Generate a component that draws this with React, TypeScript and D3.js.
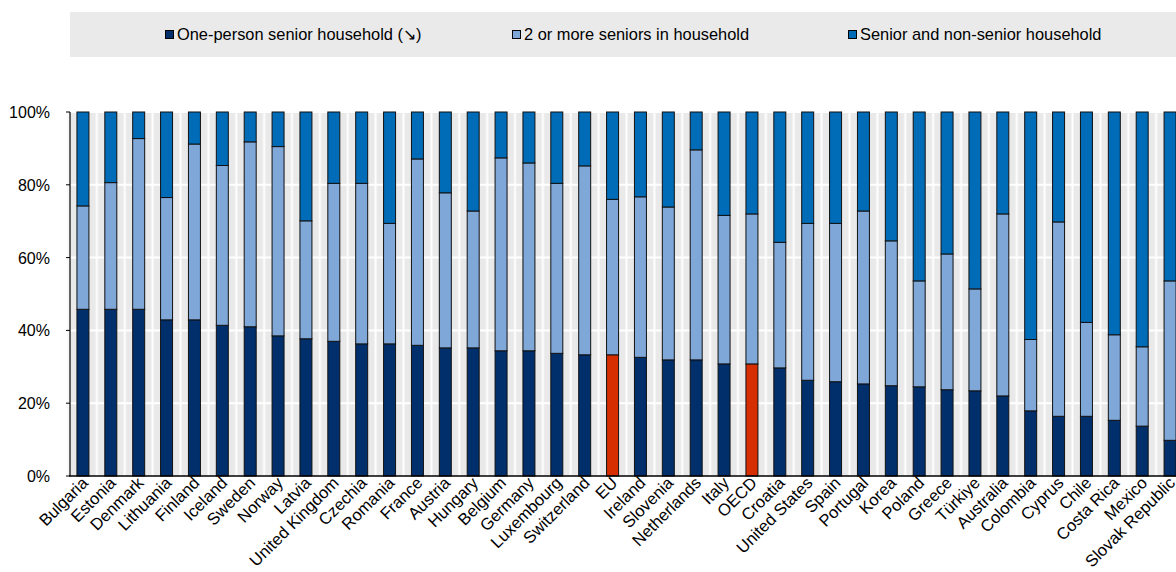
import React from "react";
import * as d3 from "d3";

const categories = ["Bulgaria","Estonia","Denmark","Lithuania","Finland","Iceland","Sweden","Norway","Latvia","United Kingdom","Czechia","Romania","France","Austria","Hungary","Belgium","Germany","Luxembourg","Switzerland","EU","Ireland","Slovenia","Netherlands","Italy","OECD","Croatia","United States","Spain","Portugal","Korea","Poland","Greece","Türkiye","Australia","Colombia","Cyprus","Chile","Costa Rica","Mexico","Slovak Republic"];

// One-person senior household (%)
const onePerson = [45.8,45.8,45.8,42.9,42.9,41.4,41.0,38.5,37.7,37.0,36.3,36.3,35.9,35.2,35.2,34.4,34.4,33.7,33.3,33.3,32.6,31.9,31.9,30.8,30.8,29.7,26.3,25.9,25.3,24.8,24.5,23.7,23.4,22.0,17.9,16.4,16.4,15.3,13.7,9.8];
// Cumulative top of "2 or more seniors" (%)
const cumTwoOrMore = [74.2,80.6,92.7,76.5,91.2,85.3,91.8,90.5,70.1,80.4,80.4,69.4,87.1,77.8,72.8,87.4,86.0,80.4,85.2,76.0,76.7,73.9,89.6,71.6,72.0,64.2,69.4,69.4,72.8,64.6,53.6,61.0,51.4,72.0,37.5,69.8,42.2,38.8,35.5,53.6];
const twoOrMore = cumTwoOrMore.map((c, i) => +(c - onePerson[i]).toFixed(1));
const seniorNonSenior = cumTwoOrMore.map((c) => +(100 - c).toFixed(1));

const yTicks = [0, 20, 40, 60, 80, 100];
const highlight = ["EU", "OECD"];

const seriesNames = ["One-person senior household (\u2198)", "2 or more seniors in household", "Senior and non-senior household"];
const seriesColors = ["#002F6C", "#7FA8D9", "#006BB6"];
const highlightColor = "#D62E00";

const W = 1176, H = 572;
const left = 69, right = 69 + 40 * 27.875, top = 112, bottom = 476;
const font = "'Liberation Sans', Arial, sans-serif";

export default function App() {
  const x = d3.scaleBand<string>().domain(categories).range([left, right]).paddingInner(0.57).paddingOuter(0.285);
  const y = d3.scaleLinear().domain([0, 100]).range([bottom, top]);
  const stackData = categories.map((c, i) => ({ c, a: onePerson[i], b: twoOrMore[i], s: seniorNonSenior[i] }));
  const stacked = d3.stack<any>().keys(["a", "b", "s"])(stackData);
  const step = x.step();
  const bw = x.bandwidth();

  const legendItems = [
    { x: 165, label: seriesNames[0], color: seriesColors[0] },
    { x: 512, label: seriesNames[1], color: seriesColors[1] },
    { x: 848, label: seriesNames[2], color: seriesColors[2] },
  ];

  return (
    <svg width={W} height={H} style={{ position: "absolute", left: 0, top: 0 }} fontFamily={font}>
      <rect x={0} y={0} width={W} height={H} fill="#fff" />
      {/* legend */}
      <rect x={70} y={12} width={W - 70} height={45} fill="#EAEAEA" />
      {legendItems.map((l, i) => (
        <g key={i}>
          <rect x={l.x + 0.5} y={30.5} width={8} height={8} fill={l.color} stroke="#000" strokeWidth={1} />
          <text x={l.x + 12} y={40} fontSize={16.4} fill="#000">{l.label}</text>
        </g>
      ))}
      {/* plot background */}
      <rect x={left} y={top} width={right - left} height={bottom - top} fill="#E9E9E9" />
      {categories.map((c, i) => (
        <rect key={"v" + i} x={(x(c) as number) - (step - bw) / 2 - 1.5} y={top} width={3} height={bottom - top} fill="#F4F4F4" />
      ))}
      {categories.map((c, i) => (
        <line key={"vl" + i} x1={(x(c) as number) - (step - bw) / 2} x2={(x(c) as number) - (step - bw) / 2} y1={top} y2={bottom} stroke="#fff" strokeWidth={1} />
      ))}
      {yTicks.filter((t) => t > 0).map((t) => (
        <line key={"g" + t} x1={left} x2={right} y1={y(t)} y2={y(t)} stroke="#fff" strokeWidth={2} />
      ))}
      {/* bars */}
      {stacked.map((layer, li) => (
        <g key={li}>
          {layer.map((d: any, i: number) => {
            const cat = categories[i];
            const fill = li === 0 && highlight.includes(cat) ? highlightColor : seriesColors[li];
            return (
              <rect key={i} x={x(cat)} y={y(d[1])} width={bw} height={y(d[0]) - y(d[1])} fill={fill} stroke="#111" strokeWidth={1} />
            );
          })}
        </g>
      ))}
      {/* axes */}
      <line x1={left + 1} x2={left + 1} y1={top} y2={bottom} stroke="#000" strokeWidth={1.2} />
      <line x1={left} x2={W} y1={bottom} y2={bottom} stroke="#000" strokeWidth={1.5} />
      {yTicks.map((t) => (
        <g key={"yt" + t}>
          <line x1={left - 3} x2={left + 1} y1={y(t)} y2={y(t)} stroke="#000" strokeWidth={1} />
          <text x={50} y={y(t) + 6} fontSize={16} textAnchor="end" fill="#000">{t + "%"}</text>
        </g>
      ))}
      {categories.map((c) => {
        const cx = (x(c) as number) + bw / 2 + 6;
        const cy = 484;
        return (
          <text key={"xl" + c} x={cx} y={cy} fontSize={16.6} textAnchor="end" fill="#000" transform={`rotate(-45 ${cx} ${cy})`}>{c}</text>
        );
      })}
    </svg>
  );
}
